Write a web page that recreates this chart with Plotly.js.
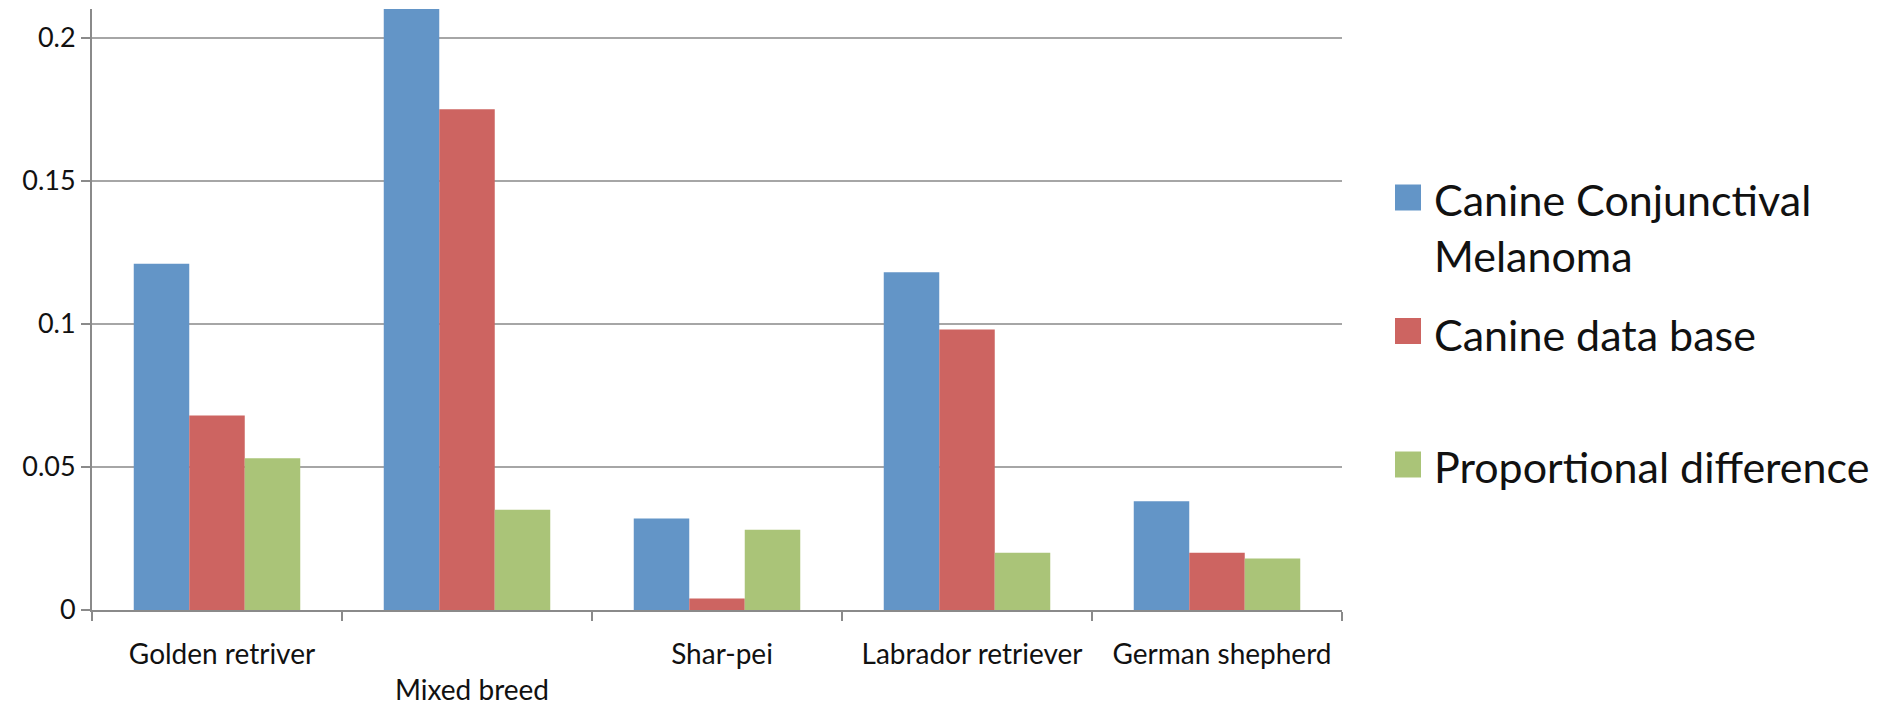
<!DOCTYPE html>
<html>
<head>
<meta charset="utf-8">
<script src="https://cdn.plot.ly/plotly-3.0.1.min.js"></script>
<style>
  html, body { margin: 0; padding: 0; background: #ffffff; }
  #chart { width: 1891px; height: 705px; }
</style>
</head>
<body>
<div id="chart"></div>
<script>
// ---- data ----
const categories = ['Golden retriver', 'Mixed breed', 'Shar-pei', 'Labrador retriever', 'German shepherd'];
const seriesNames = ['Canine Conjunctival Melanoma', 'Canine data base', 'Proportional difference'];
const melanoma = [0.121, 0.210, 0.032, 0.118, 0.038];
const database = [0.068, 0.175, 0.004, 0.098, 0.020];
const propDiff = [0.053, 0.035, 0.028, 0.020, 0.018];
const yTickVals = [0, 0.05, 0.1, 0.15, 0.2];
const yTickText = ['0', '0.05', '0.1', '0.15', '0.2'];

// ---- styles ----
const colors = ['#6395C7', '#CD6461', '#AAC478'];
const FONT = 'Lato, "Open Sans", sans-serif';
const W = 1891, H = 705;
const M = { l: 92, r: 549, t: 9, b: 95 };
const plotW = W - M.l - M.r, plotH = H - M.t - M.b;
const px2x = px => (px - M.l) / plotW;
const py2y = py => (H - M.b - py) / plotH;

const values = [melanoma, database, propDiff];
const traces = values.map((v, i) => ({
  type: 'bar',
  name: seriesNames[i],
  x: categories,
  y: v,
  marker: { color: colors[i], line: { width: 0 } },
  showlegend: false,
  hoverinfo: 'x+y+name'
}));

// staggered category labels (second label drops one line, as in the original)
const tickText = categories.map((c, i) => (i === 1 ? '<br>' + c : c));

// manual legend: big square swatches + labels
const legendLabels = ['Canine Conjunctival<br>Melanoma', 'Canine data base', 'Proportional difference'];
const swatchCenters = [197.5, 331, 464.5];
const labelCenters = [227, 334, 466];
const SW = 26;
const shapes = swatchCenters.map((cy, i) => ({
  type: 'rect', xref: 'paper', yref: 'paper',
  x0: px2x(1395), x1: px2x(1395 + SW),
  y0: py2y(cy + SW / 2), y1: py2y(cy - SW / 2),
  fillcolor: colors[i], line: { width: 0 }
}));
const annotations = legendLabels.map((t, i) => ({
  xref: 'paper', yref: 'paper',
  x: px2x(1432), y: py2y(labelCenters[i]),
  xanchor: 'left', yanchor: 'middle', align: 'left',
  text: t, showarrow: false,
  font: { family: FONT, size: 43, color: '#111111' }
}));

const layout = {
  width: W, height: H,
  margin: M,
  paper_bgcolor: '#ffffff',
  plot_bgcolor: '#ffffff',
  barmode: 'group',
  bargap: 0.334,
  bargroupgap: 0,
  showlegend: false,
  font: { family: FONT, color: '#111111' },
  xaxis: {
    type: 'category',
    tickmode: 'array',
    tickvals: categories,
    ticktext: tickText,
    tickson: 'boundaries',
    ticks: 'outside', ticklen: 9, tickwidth: 2, tickcolor: '#8a8a8a',
    showline: true, linecolor: '#8a8a8a', linewidth: 2,
    showgrid: false, zeroline: false,
    tickfont: { family: FONT, size: 28, color: '#111111' },
    ticklabelstandoff: 18,
    ticklabelshift: 5,
    range: [-0.5, 4.5],
    fixedrange: true
  },
  yaxis: {
    range: [0, 0.21],
    tickmode: 'array',
    tickvals: yTickVals,
    ticktext: yTickText,
    ticks: 'outside', ticklen: 9, tickwidth: 2, tickcolor: '#8a8a8a',
    showline: true, linecolor: '#8a8a8a', linewidth: 2,
    showgrid: true, gridcolor: '#a6a6a6', gridwidth: 2,
    zeroline: false,
    tickfont: { family: FONT, size: 27, color: '#111111' },
    ticklabelstandoff: 0,
    fixedrange: true
  },
  shapes: shapes,
  annotations: annotations
};

Plotly.newPlot('chart', traces, layout, { staticPlot: true, displayModeBar: false });
</script>
</body>
</html>
